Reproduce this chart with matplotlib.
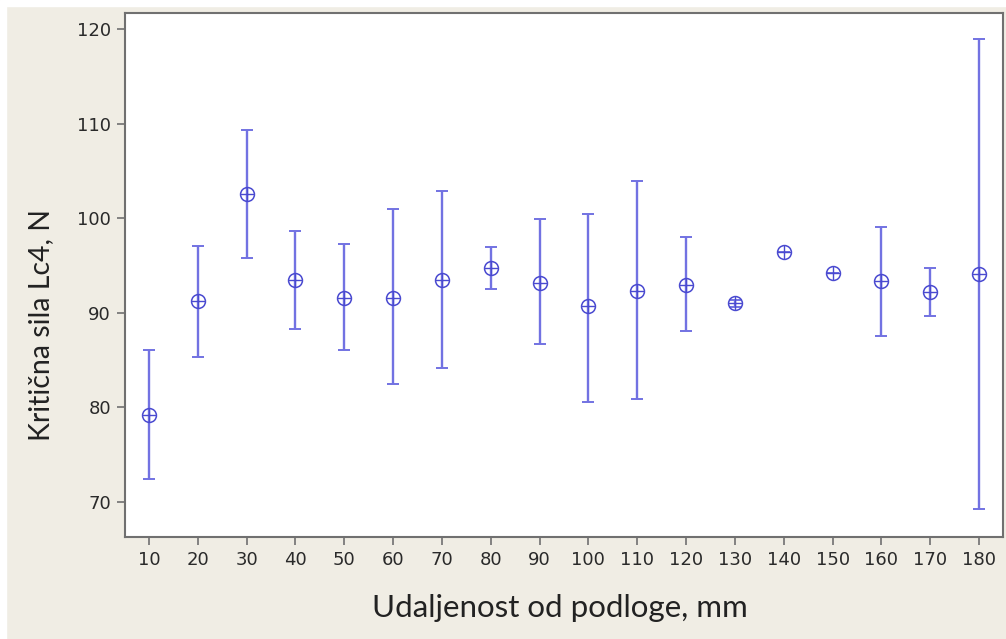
import matplotlib
matplotlib.use("Agg")
import matplotlib.pyplot as plt
import numpy as np
from matplotlib.patches import Rectangle

# Data
distance = [10, 20, 30, 40, 50, 60, 70, 80, 90, 100, 110, 120, 130, 140, 150, 160, 170, 180]
mean_force = [79.2, 91.2, 102.6, 93.5, 91.6, 91.6, 93.5, 94.7, 93.2, 90.7, 92.3, 92.9, 91.0, 96.4, 94.2, 93.4, 92.2, 94.1]
upper = [86.1, 97.1, 109.3, 98.6, 97.3, 101.0, 102.9, 97.0, 99.9, 100.5, 103.9, 98.0, 91.4, 96.4, 94.2, 99.1, 94.7, 118.9]
lower = [72.4, 85.3, 95.8, 88.3, 86.1, 82.5, 84.2, 92.5, 86.7, 80.6, 80.9, 88.1, 90.6, 96.4, 94.2, 87.5, 89.7, 69.3]
xticks = list(range(10, 181, 10))
yticks = [70, 80, 90, 100, 110, 120]

bg = "#f0ede4"
line_c = "#7272e2"
cap_c = "#5a5ac8"
mark_c = "#4a4ad0"

fig = plt.figure(figsize=(10.06, 6.39), dpi=100, facecolor=bg)
# thin white border at the top and left like the reference
fig.patches.append(Rectangle((0, 0), 6/1006, 1, transform=fig.transFigure, color="white", zorder=0))
fig.patches.append(Rectangle((0, 1-6/639), 1, 6/639, transform=fig.transFigure, color="white", zorder=0))

ax = fig.add_axes([125/1006, 102/639, 878/1006, 524/639])
ax.set_facecolor("white")

x = np.array(distance)
m = np.array(mean_force)
yerr = np.vstack([m - np.array(lower), np.array(upper) - m])
eb = ax.errorbar(x, m, yerr=yerr, fmt="none", ecolor=line_c, elinewidth=1.7, capsize=4.5, capthick=1.4, zorder=2)
for cap in eb[1]:
    cap.set_color(cap_c)
ax.plot(x, m, "o", ms=10, mfc="none", mec=mark_c, mew=1.1, zorder=3)
ax.plot(x, m, "+", ms=10, mec=mark_c, mew=1.0, zorder=3)

ax.set_xlim(5.1, 184.9)
ax.set_ylim(66.3, 121.7)
ax.set_xticks(xticks)
ax.set_yticks(yticks)
for s in ax.spines.values():
    s.set_color("#707070")
    s.set_linewidth(1.5)
ax.tick_params(direction="out", length=6, width=1.2, color="#707070", labelsize=13, labelcolor="#2a2a2a", pad=4)
for lab in ax.get_xticklabels() + ax.get_yticklabels():
    lab.set_family("DejaVu Sans")

ax.set_xlabel("Udaljenost od podloge, mm", fontsize=22.5, family="Lato", color="#222222", va="center")
ax.set_ylabel("Kritična sila Lc4, N", fontsize=20.5, family="Lato", color="#222222", va="center")
ax.xaxis.set_label_coords(0.495, -0.135)
ax.yaxis.set_label_coords(-0.0957, 0.405)

fig.savefig("out.png", dpi=100, facecolor=bg)
